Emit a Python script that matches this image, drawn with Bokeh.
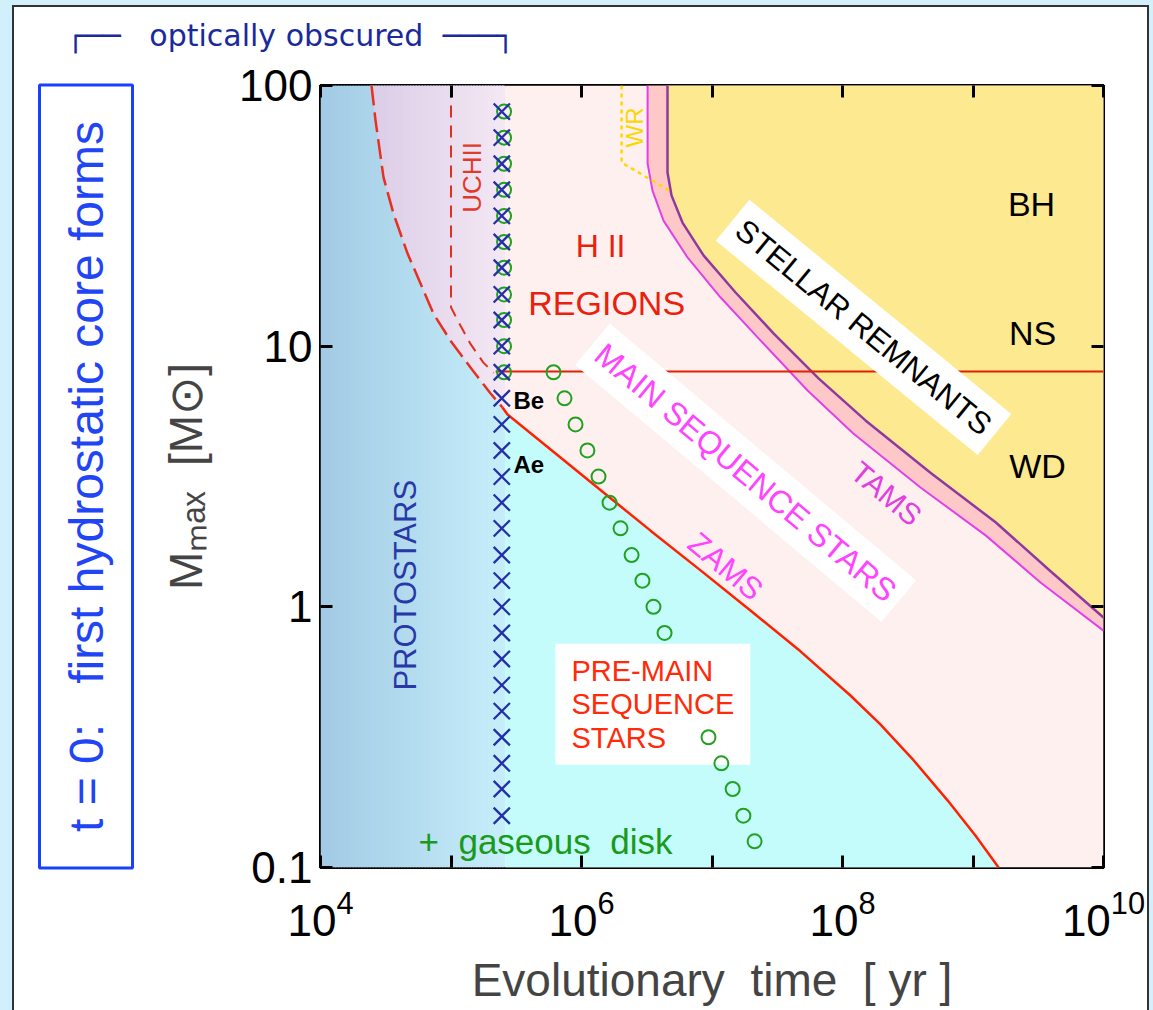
import numpy as np
from bokeh.plotting import figure
from bokeh.models import LogAxis, FixedTicker, Label, Range1d, Title
from bokeh.embed import file_html
from bokeh.resources import INLINE

FONT = "Liberation Sans"
NB = "\u00a0"

# ---------------- data ----------------
time_label_ticks = [1e4, 1e6, 1e8, 1e10]
time_minor_ticks = [1e5, 1e7, 1e9]
mass_ticks = [0.1, 1, 10, 100]
mass_tick_labels = ["0.1", "1", "10", "100"]

obscured_end_t = 2.6e5

# long-dashed red envelope of the protostars
envelope_t = [2.46e4, 2.64e4, 3.04e4, 3.62e4, 4.64e4, 5.84e4, 7.35e4, 9.91e4, 1.41e5, 2.01e5, 2.48e5]
envelope_m = [100, 73.5, 44.4, 32.3, 22.7, 17.4, 13.3, 10.5, 8.28, 6.58, 5.82]

zams_t = [2.48e5, 2.71e5, 6.90e5, 1.67e6, 3.38e6, 8.17e6, 1.97e7, 4.76e7, 1.15e8, 1.95e8,
          3.50e8, 6.38e8, 1.05e9, 1.57e9]
zams_m = [5.82, 5.47, 3.74, 2.61, 1.96, 1.38, 0.968, 0.675, 0.457, 0.354, 0.258, 0.181, 0.132, 0.1]

tams_t = [3.21e6, 3.21e6, 3.50e6, 4.25e6, 6.49e6, 1.16e7, 2.36e7, 5.40e7, 1.21e8, 3.96e8, 1.25e9, 3.29e9, 1e10]
tams_m = [100, 50.2, 39.5, 30.3, 21.9, 15.4, 10.5, 6.76, 4.62, 2.87, 1.88, 1.24, 0.81]

remnant_t = [4.56e6, 4.56e6, 4.90e6, 5.94e6, 8.61e6, 1.51e7, 2.96e7, 6.55e7, 1.50e8, 4.72e8, 1.49e9, 3.93e9, 1e10]
remnant_m = [100, 46.4, 37.8, 29.8, 22.3, 16.1, 11.2, 7.52, 5.19, 3.27, 2.11, 1.37, 0.91]

uchii_t = [1.0e5, 1.0e5, 1.12e5, 1.41e5, 1.77e5, 2.12e5]
uchii_m = [100, 14.1, 12.6, 10.2, 8.65, 7.9]

wr_t = [2.03e6, 2.03e6, 4.72e6]
wr_m = [100, 50.6, 39.5]

ob_limit_t = [2.2e5, 1e10]
ob_limit_m = [8.0, 8.0]

protostar_t = 2.45e5
protostar_m = [79.4, 63.1, 50.1, 39.8, 31.6, 25.1, 20.0, 15.8, 12.6, 10.0, 7.94, 6.31, 5.01, 3.98,
               3.16, 2.51, 2.00, 1.58, 1.26, 1.00, 0.794, 0.631, 0.501, 0.398, 0.316, 0.251, 0.200, 0.158]
hii_t = 2.55e5
hii_m = [79.4, 63.1, 50.1, 39.8, 31.6, 25.1, 20.0, 15.8, 12.6, 10.0, 7.94]

pms_upper_t = [6.10e5, 7.41e5, 9.0e5, 1.11e6, 1.35e6, 1.64e6, 1.99e6, 2.42e6, 2.93e6, 3.56e6, 4.33e6]
pms_upper_m = [7.94, 6.31, 5.01, 3.98, 3.16, 2.51, 2.00, 1.58, 1.26, 1.00, 0.794]
pms_lower_t = [9.40e6, 1.18e7, 1.44e7, 1.74e7, 2.12e7]
pms_lower_m = [0.316, 0.251, 0.200, 0.158, 0.126]

# ---------------- figure ----------------
p = figure(width=1153, height=1010, x_axis_type="log", y_axis_type="log",
           x_range=Range1d(1e4, 1e10), y_range=Range1d(0.1, 100),
           output_backend="svg", toolbar_location=None,
           min_border_left=320, min_border_right=50, min_border_top=85, min_border_bottom=143)
p.grid.visible = False
p.border_fill_color = None
p.background_fill_color = "#fff0f0"
p.outline_line_color = "black"
p.outline_line_width = 3
p.styles = {
    "background": "linear-gradient(#ffffff, #ffffff) 14px 7px / 1133px 1010px no-repeat, "
                  "linear-gradient(#333333, #333333) 12px 5px / 1137px 1010px no-repeat, #d2f0fb"
}


def mix(c0, c1, f):
    return "#%02x%02x%02x" % tuple(int(round(a + (b - a) * f)) for a, b in zip(c0, c1))


# gradient strips for the protostar (obscured) zone
N = 64
l0, l1 = 4.0, np.log10(obscured_end_t)
edges = np.linspace(l0, l1, N + 1)
step = edges[1] - edges[0]
lx = np.log10(envelope_t)
ly = np.log10(envelope_m)
bl, br, bc = [], [], []
lav_xs, lav_ys, lav_c = [], [], []
for i in range(N):
    a = edges[i]
    b = min(edges[i + 1] + 0.5 * step, l1)
    f = (i + 0.5) / N
    bl.append(10 ** a)
    br.append(10 ** b)
    bc.append(mix((162, 202, 228), (198, 238, 250), f))
    ya = np.interp(a, lx, ly, left=2.0)
    yb = np.interp(b, lx, ly, left=2.0)
    if ya < 2.0 or yb < 2.0:
        lav_xs.append([10 ** a, 10 ** b, 10 ** b, 10 ** a])
        lav_ys.append([10 ** ya, 10 ** yb, 100, 100])
        lav_c.append(mix((210, 194, 226), (244, 232, 244), f))

p.quad(left=bl, right=br, bottom=0.1, top=100, fill_color=bc, line_color=None)
p.patches(lav_xs, lav_ys, fill_color=lav_c, line_color=None)

# right part: pink H II / main sequence background
p.quad(left=obscured_end_t, right=1e10, bottom=0.1, top=100, fill_color="#fff0f0", line_color=None)

# cyan pre-main-sequence zone below ZAMS
lzt, lzm = np.log10(zams_t), np.log10(zams_m)
m_col = 10 ** np.interp(np.log10(obscured_end_t), lzt, lzm)
cx = [obscured_end_t] + [t for t in zams_t if t > obscured_end_t] + [obscured_end_t]
cy = [m_col] + [m for t, m in zip(zams_t, zams_m) if t > obscured_end_t] + [0.1]
p.patch(cx, cy, fill_color="#c4fcfc", line_color=None)

# post-main-sequence band and stellar remnants
p.patch(tams_t + [1e10], tams_m + [100], fill_color="#ffc8c8", line_color=None)
p.patch(remnant_t + [1e10], remnant_m + [100], fill_color="#fdea90", line_color=None)

# lines
p.line(envelope_t, envelope_m, line_color="#e83020", line_width=2.5, line_dash="20 7")
p.line(uchii_t, uchii_m, line_color="#e03020", line_width=2, line_dash="12 8")
p.line(zams_t, zams_m, line_color="#ff2200", line_width=2.5)
p.line(tams_t, tams_m, line_color="#e040e8", line_width=2)
p.line(remnant_t, remnant_m, line_color="#9038a0", line_width=2.5)
p.line(wr_t, wr_m, line_color="#ffd800", line_width=2.5, line_dash="4 4")
p.line(ob_limit_t, ob_limit_m, line_color="#e02000", line_width=2)

# markers
p.scatter([hii_t] * len(hii_m), hii_m, marker="circle", size=14, fill_color=None,
          line_color="#22a022", line_width=2)
p.scatter([protostar_t] * len(protostar_m), protostar_m, marker="x", size=23,
          line_color="#2430a8", line_width=2.3)
p.scatter(pms_upper_t, pms_upper_m, marker="circle", size=14, fill_color=None,
          line_color="#22a022", line_width=2)
low = p.scatter(pms_lower_t, pms_lower_m, marker="circle", size=14, fill_color=None,
                line_color="#22a022", line_width=2)
low.level = "overlay"


# ---------------- axes ----------------
def style_axis(ax, ticks, minor=None):
    ax.ticker = FixedTicker(ticks=ticks, minor_ticks=minor or [])
    ax.axis_line_color = None
    for k in ("major", "minor"):
        setattr(ax, f"{k}_tick_in", 12)
        setattr(ax, f"{k}_tick_out", 0)
        setattr(ax, f"{k}_tick_line_width", 3)
        setattr(ax, f"{k}_tick_line_color", "black")


def spacer(size, tick):
    # invisible axis that only reserves room in a side panel
    ax = LogAxis(ticker=FixedTicker(ticks=[tick]), axis_line_color=None,
                 major_tick_in=0, major_tick_out=size, major_tick_line_color=None,
                 minor_tick_in=0, minor_tick_out=0, minor_tick_line_color=None,
                 major_label_standoff=0, major_label_text_font_size="1px",
                 major_label_text_alpha=0)
    return ax


style_axis(p.xaxis[0], time_label_ticks, time_minor_ticks)
p.xaxis[0].major_label_text_font = FONT
p.xaxis[0].major_label_text_font_size = "44px"
p.xaxis[0].major_label_text_color = "black"
p.xaxis[0].major_label_standoff = 22
p.xaxis[0].axis_label = "Evolutionary" + NB * 2 + "time" + NB * 2 + "[ yr ]"
p.xaxis[0].axis_label_text_font = FONT
p.xaxis[0].axis_label_text_font_size = "46px"
p.xaxis[0].axis_label_text_font_style = "normal"
p.xaxis[0].axis_label_standoff = 15

style_axis(p.yaxis[0], mass_ticks)
p.yaxis[0].major_label_overrides = {v: s for v, s in zip(mass_ticks, mass_tick_labels)}
p.yaxis[0].major_label_text_font = FONT
p.yaxis[0].major_label_text_font_size = "44px"
p.yaxis[0].major_label_standoff = 8
p.yaxis[0].major_label_text_color = "black"
p.yaxis[0].axis_label = "M\u2098\u2090\u2093" + NB * 2 + "[M\u2299]"
p.yaxis[0].axis_label_text_font = FONT
p.yaxis[0].axis_label_text_font_size = "46px"
p.yaxis[0].axis_label_text_font_style = "normal"
p.yaxis[0].axis_label_standoff = 24

top_ax = LogAxis()
style_axis(top_ax, time_label_ticks, time_minor_ticks)
top_ax.major_label_text_alpha = 0
top_ax.major_label_text_font_size = "1px"
top_ax.major_label_standoff = 0
p.add_layout(top_ax, "above")
right_ax = LogAxis()
style_axis(right_ax, mass_ticks)
right_ax.major_label_text_alpha = 0
right_ax.major_label_text_font_size = "1px"
right_ax.major_label_standoff = 0
p.add_layout(right_ax, "right")

# left box: t = 0 (a spacer keeps it clear of the axis title)
p.add_layout(spacer(25, 0.1), "left")
t0 = Title(text="t = 0:" + NB * 3 + "first hydrostatic core forms", align="center",
           text_font=FONT, text_font_size="48px", text_font_style="normal",
           text_color="#1f45f5", border_line_color="#1a40ff", border_line_width=3,
           padding=(36, 20), standoff=0)
p.add_layout(t0, "left")

# optically obscured bracket
p.add_layout(spacer(33, 1e4), "above")
ob = Title(text="\u250c\u2500\u2500" + NB * 3 + "optically obscured" + NB * 2 + "\u2500\u2500\u2500\u2510",
           align="left", offset=-254, text_font="DejaVu Sans", text_font_size="30px",
           text_font_style="normal", text_color="#1a2a9c", standoff=0)
p.add_layout(ob, "above")


# ---------------- in-plot labels ----------------
def lab(x, y, text, size, color, angle=0.0, align="center", baseline="middle",
        bold=False, bg=None, pad=0):
    l = Label(x=x, y=y, text=text, text_font=FONT,
              text_font_size=f"{size}px", text_color=color, angle=angle, angle_units="deg",
              text_align=align, text_baseline=baseline,
              text_font_style="bold" if bold else "normal",
              background_fill_color=bg, padding=pad)
    p.add_layout(l)
    return l


lab(1.40e6, 24.3, "H II", 32, "#e8200c")
lab(1.56e6, 14.7, "REGIONS", 34, "#e8200c")
lab(1.46e5, 44.4, "UCHII", 26, "#e03a2a", angle=90)
lab(2.55e6, 69.0, "WR", 24, "#f8d800", angle=90)
lab(2.81e9, 35.2, "BH", 34, "black")
lab(2.86e9, 11.2, "NS", 34, "black")
lab(3.12e9, 3.48, "WD", 34, "black")
lab(1.45e8, 11.8, "STELLAR REMNANTS", 31, "black", angle=-39.3, bg="white", pad=9)
lab(1.81e7, 3.27, "MAIN SEQUENCE STARS", 32, "#ff44ff", angle=-40, bg="white", pad=9)
lab(2.17e8, 2.72, "TAMS", 30, "#e040e0", angle=-39.8)
lab(1.27e7, 1.43, "ZAMS", 31, "#ff44ff", angle=-40)
lab(4.48e4, 1.21, "PROTOSTARS", 31, "#2838a8", angle=90)
lab(3.01e5, 6.19, "Be", 24, "black", align="left", bold=True)
lab(3.01e5, 3.52, "Ae", 24, "black", align="left", bold=True)
lab(5.64e4, 0.126, "+" + NB * 2 + "gaseous" + NB * 2 + "disk", 35, "#1a9a1a", align="left")
pm = Label(x=6.32e5, y=0.423, text="PRE-MAIN\nSEQUENCE\nSTARS", text_font=FONT,
           text_font_size="29px", text_color="#ff2a0a", text_align="left",
           text_baseline="middle", text_line_height=1.05,
           background_fill_color="white", padding=(16, 11))
p.add_layout(pm)

open("out.html", "w").write(file_html(p, INLINE))
